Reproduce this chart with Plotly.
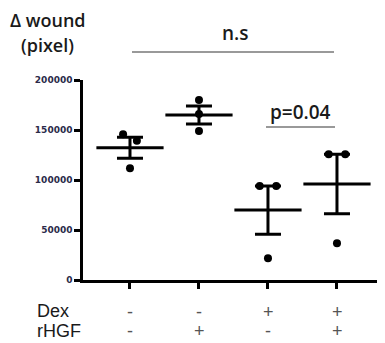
import numpy as np
import plotly.graph_objects as go

groups = [0, 1, 2, 3]
values = [
    [145700, 139300, 111700],
    [180000, 166000, 149000],
    [94000, 94000, 21700],
    [125700, 125700, 36700],
]
jitter = [
    [-0.10, 0.10, 0.0],
    [0.0, 0.0, 0.0],
    [-0.12, 0.12, 0.0],
    [-0.12, 0.12, 0.0],
]
dex = ["-", "-", "+", "+"]
rhgf = ["-", "+", "-", "+"]
ytick_vals = [0, 50000, 100000, 150000, 200000]
ytick_text = ["0", "50000", "100000", "150000", "200000"]

means = [float(np.mean(v)) for v in values]
sems = [float(np.std(v, ddof=1) / np.sqrt(len(v))) for v in values]

# page has an 8px body margin; plot area on screen: x 83..385, y 80..280
OFF = 8
PL, PR, PT, PB = 83, 385, 80, 280
W, H = 385, 343


def px(sx):
    return (sx - PL) / (PR - PL)


def py(sy):
    return (PB - sy) / (PB - PT)


fig = go.Figure()
dx, dy = [], []
for g, v, j in zip(groups, values, jitter):
    for val, o in zip(v, j):
        dx.append(g + o)
        dy.append(val)
fig.add_trace(go.Scatter(x=dx, y=dy, mode="markers",
                         marker=dict(color="black", size=8), showlegend=False,
                         cliponaxis=False))
fig.add_trace(go.Scatter(x=groups, y=means, mode="markers",
                         marker=dict(symbol="line-ew", size=48,
                                     line=dict(color="black", width=3)),
                         error_y=dict(type="data", array=sems, color="black",
                                      thickness=3, width=13),
                         showlegend=False, cliponaxis=False))

ink = "#1a1a1a"
fig.update_xaxes(range=[-0.681, 3.696], showgrid=False, zeroline=False,
                 showline=True, linecolor="black", linewidth=2.5,
                 ticks="outside", ticklen=6, tickwidth=2.5, tickcolor="black",
                 tickvals=groups, showticklabels=False)
fig.update_yaxes(range=[0, 200000], showgrid=False, zeroline=False,
                 showline=True, linecolor="black", linewidth=2.5,
                 ticks="outside", ticklen=6, tickwidth=2.5, tickcolor="black",
                 tickvals=ytick_vals, ticktext=["<b>%s</b>" % t for t in ytick_text],
                 tickfont=dict(family="DejaVu Sans", size=9, color="#2b2b4a"))


def label(sx, sy, text, xanchor="left", size=19, family="Liberation Sans",
          color=ink, weight="normal"):
    fig.add_annotation(x=px(sx), y=py(sy), xref="paper", yref="paper", text=text,
                       xanchor=xanchor, yanchor="middle", showarrow=False,
                       font=dict(family=family, size=size, color=color, weight=weight))


label(48, 20, "Δ wound", xanchor="center", size=18, family="Open Sans", weight=600)
label(47, 45, "(pixel)", xanchor="center", size=18, family="Open Sans", weight=600)
label(235, 33, "n.s", xanchor="center", family="Open Sans", weight=600)
label(300, 112, "p=0.04", xanchor="center", family="Open Sans", weight=600)
fig.add_shape(type="line", xref="paper", yref="paper", x0=px(132), x1=px(334),
              y0=py(52), y1=py(52), line=dict(color="#777777", width=1.5))
fig.add_shape(type="line", xref="paper", yref="paper", x0=px(266), x1=px(335),
              y0=py(127), y1=py(127), line=dict(color="#777777", width=1.5))
label(35, 311, "Dex", size=18)
label(35, 331, "rHGF", size=18)
tick_px = [130, 199, 268, 337]
for sx, d, r in zip(tick_px, dex, rhgf):
    label(sx, 312, d, xanchor="center", size=18, color="#555555")
    label(sx, 331, r, xanchor="center", size=18, color="#555555")

fig.update_layout(width=W, height=H,
                  margin=dict(l=PL - OFF, r=W - PR + OFF, t=PT - OFF, b=H - PB + OFF),
                  plot_bgcolor="white", paper_bgcolor="white")
fig.write_html("out.html")
